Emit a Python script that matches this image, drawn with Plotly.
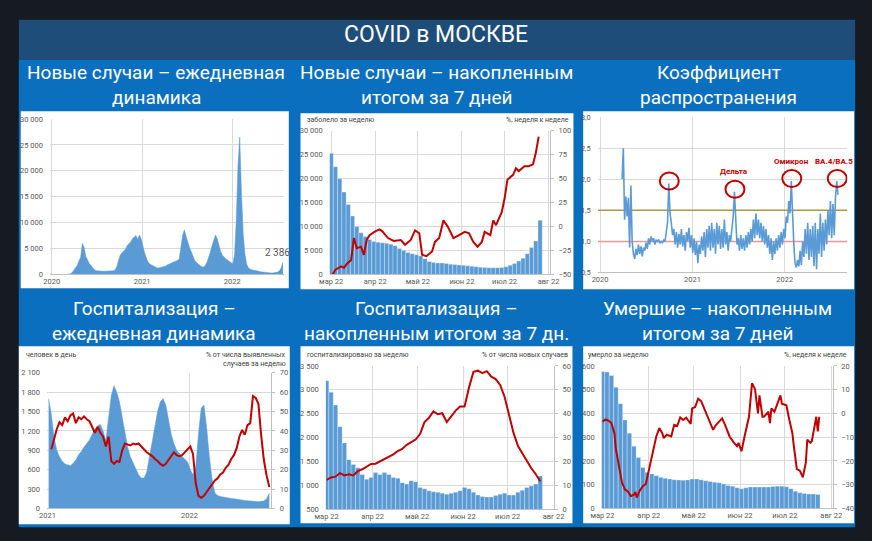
import pandas as pd
import plotly.graph_objects as go

W, H = 872, 541
FONT = "Roboto, 'Open Sans', sans-serif"
BLUE = "#5b9bd5"
RED = "#c00000"
GRID = "#d9d9d9"
AXIS = "#bfbfbf"
DAY = 86400000

# ---- panel 1: new cases, daily level (weekly samples) ----
cases_start = "2020-03-02"
cases = [
    10, 30, 100, 300, 700, 1200, 1700, 2600, 3300, 6000, 5200, 3500, 2700,
    2100, 1700, 1200, 900, 700, 650, 600, 580, 600, 620, 640, 650, 650, 650,
    700, 900, 1600, 2800, 3800, 4200, 4600, 4900, 5600, 5900, 6300, 6900, 7200,
    7500, 6800, 7600, 6900,
    5200, 4200, 3200, 2400, 2000, 1800, 1600, 1400, 1300, 1250, 1350, 1300, 1400,
    1600, 1800, 1900, 2100, 2300, 2400, 2600, 2700, 3000, 5000, 7600, 8600, 7200,
    6200, 5200, 4300, 3300, 2700, 2300, 2000, 1700, 1500, 1400, 1700, 2300, 3200,
    4300, 5600, 6800, 7600, 6900, 5600, 4400, 3700, 3300, 3000, 2800, 2500, 2300,
    2000, 3800, 10500, 21000, 26500, 16000, 8000, 4000, 2000, 1300, 1000, 900, 850,
    800, 700, 600, 500, 450, 380, 350, 330, 300, 290, 280, 300, 350,
    450, 700, 1300, 2386,
]
year_ticks = ["2020-01-01", "2021-01-01", "2022-01-01"]
year_text = ["2020", "2021", "2022"]

# ---- panel 2: cases for 7 days + week-to-week % ----
week_start = "2022-03-01"
cases_week = [
    25300, 22500, 20000, 17200, 14600, 12200, 10000, 8700, 7900, 7300,
    6900, 6700, 6600, 6500, 6300, 6000, 5400, 5000, 4600, 4300,
    4100, 3900, 3300, 2700, 2500, 2400, 2400, 2300, 2150, 2050,
    1950, 1900, 1800, 1700, 1600, 1500, 1450, 1400, 1400, 1400,
    1450, 1600, 1900, 2300, 2800, 3400, 4300, 5600, 7000, 11300,
]
cases_pct_day = [1, 3, 7, 9, 11, 14, 16, 18, 21, 23, 25, 27, 31, 34, 36, 40, 44,
                 49, 52, 56, 59, 62, 64, 67, 71, 73, 76, 79, 82, 86, 90, 94, 97,
                 100, 103, 106, 108, 112, 114, 116, 120, 122, 124, 128, 130, 132,
                 136, 139, 142, 144, 146]
cases_pct = [-50, -45, -41.5, -43, -39, -35, -12, -22.6, -21, -29.5, -14, -9, -5,
             -3, -5, -12, -15, -14, -19, -14, -4, -7, -29.5, -31, -26, -16, -12,
             6.5, 0, -12, -9, -5.5, -7, -16, -21, -16, -5.5, -9, 6.5, 1.4, 15, 29,
             49, 54, 61, 58, 63, 63, 65, 77, 94]
month_ticks = ["2022-03-01", "2022-04-01", "2022-05-01", "2022-06-01",
               "2022-07-01", "2022-08-01"]
month_text = ["мар 22", "апр 22", "май 22", "июн 22", "июл 22", "авг 22"]

# ---- panel 3: reproduction number (5-day samples) ----
rt_start = "2020-03-28"
rt = [
    2.0, 2.5, 1.35, 1.72, 1.4, 1.7, 0.9, 1.9, 1.0, 0.8,
    0.72, 0.88, 0.78, 0.95, 0.8, 0.92, 0.76, 0.9, 0.85, 0.98,
    0.88, 1.05, 0.95, 1.08, 1.0, 1.05, 0.95, 1.02, 1.0, 1.03,
    0.97, 1.0, 0.98, 1.02, 1.0, 1.15, 1.3, 1.93, 1.45, 1.3,
    1.1, 1.2, 0.95, 1.15, 0.9, 1.12, 0.95, 1.2, 0.92, 1.1,
    0.85, 1.15, 1.0, 1.22, 0.9, 1.1, 0.82, 1.05, 0.78, 1.0,
    0.65, 0.95, 0.8, 1.08, 0.85, 1.15, 0.75, 1.2, 0.9, 1.25,
    0.85, 1.3, 0.9, 1.2, 0.8, 1.3, 0.95, 1.25, 0.88, 1.2,
    0.9, 1.35, 0.95, 1.15, 0.85, 1.1, 1.0, 1.2, 1.4, 1.8,
    1.2, 0.95, 1.05, 0.85, 1.1, 0.88, 1.05, 0.85, 1.1, 0.9,
    1.15, 0.95, 1.2, 1.0, 1.35, 1.05, 1.45, 1.1, 1.35, 1.05,
    1.3, 1.0, 1.25, 0.95, 1.2, 0.9, 1.1, 0.8, 1.05, 0.7,
    1.0, 0.8, 1.05, 0.85, 1.1, 0.9, 1.15, 0.95, 1.2, 1.05,
    1.4, 1.3, 1.65, 1.45, 1.97, 1.3, 0.95, 0.65, 0.58, 0.7,
    0.6, 0.85, 0.62, 1.0, 0.75, 1.2, 0.8, 1.3, 0.7, 1.2,
    0.75, 1.25, 0.6, 1.3, 0.55, 1.2, 0.8, 1.45, 0.75, 1.3,
    0.85, 1.35, 0.95, 1.5, 1.1, 1.65, 1.05, 1.6, 1.1, 1.7,
    1.97, 1.75,
]
rt_range = ["2019-12-23", "2022-09-06"]
rt_levels = [1.5, 1.0]
rt_level_colors = ["#ad9645", "#e99595"]
rt_peaks = ["2020-09-29", "2021-06-16", "2022-01-27", "2022-07-26"]
rt_peak_labels = ["", "Дельта", "Омикрон", "BA.4/BA.5"]

# ---- panel 4: hospitalised per day + % of cases (weekly samples) ----
hosp_start = "2021-01-04"
hosp_day = [
    1700, 1450, 1100, 900, 800, 730, 690, 670, 660, 700,
    750, 830, 880, 950, 1000, 1060, 1150, 1230, 1280, 1300,
    1200, 1050, 1400, 1750, 1900, 1800, 1650, 1400, 1150, 950,
    800, 700, 620, 520, 470, 470, 560, 800, 980, 1250,
    1500, 1650, 1700, 1600, 1380, 1150, 1000, 900, 850, 800,
    760, 720, 600, 520, 650, 1150, 1550, 1600, 1250, 800,
    450, 240, 200, 185, 175, 170, 160, 155, 150, 140,
    135, 130, 125, 120, 115, 110, 105, 105, 110, 115,
    150, 240,
]
hosp_pct_start = "2021-01-11"
hosp_pct = [
    30.5, 36, 41, 44.5, 43, 47, 45, 48, 49, 44,
    47, 46, 47.5, 46, 45, 42, 39, 42, 39, 37,
    32, 37, 24.5, 23, 24.5, 24, 30, 33.5, 33, 32.5,
    33.5, 33, 33.5, 32, 30, 29, 28, 27, 25.5, 24.5,
    23, 22, 23, 25, 27, 29, 27.5, 27, 27.5, 29,
    31, 32, 28, 13, 6.5, 5.5, 6.5, 8.5, 10.5, 13,
    14.5, 15.5, 17.5, 18.5, 21, 22.5, 25.5, 27.5, 31, 37,
    40.5, 38, 43, 44, 58, 57, 54, 38, 25, 17,
    11,
]

# ---- panel 5: hospitalised for 7 days + % of new cases ----
hosp_week = [
    3190, 2950, 2680, 2230, 1890, 1540, 1440, 1370, 1230, 1130,
    1170, 1270, 1230, 1270, 1230, 1170, 1150, 1060, 1030, 1100,
    1080, 960, 930, 890, 870, 860, 840, 820, 840, 860,
    890, 960, 930, 860, 800, 770, 760, 760, 790, 820,
    840, 800, 800, 860, 900, 960, 990, 1030, 1200,
]
hosp_week_pct = [
    12.4, 13.4, 13.7, 15.2, 14.2, 14.7, 14.2, 16.0, 16.8, 17.9,
    19.0, 19.1, 20.0, 21.1, 22.0, 23.0, 24.4, 25.3, 27.0, 28.0,
    29.2, 31.5, 36.5, 38.3, 41.0, 39.8, 40.2, 36.5, 38.8, 41.3,
    43.0, 43.0, 51.0, 57.5, 58.0, 57.0, 57.8, 55.5, 54.5, 52.0,
    47.0, 40.0, 32.0, 26.5, 23.5, 20.0, 17.2, 14.7, 11.8,
]

# ---- panel 6: deaths for 7 days + week-to-week % ----
deaths_week = [
    576, 574, 559, 510, 441, 372, 317, 262, 214, 172,
    152, 145, 138, 131, 127, 124, 121, 120, 119, 120,
    124, 124, 121, 117, 114, 110, 108, 103, 97, 94,
    87, 83, 87, 90, 90, 90, 90, 90, 92, 94,
    94, 91, 83, 72, 66, 63, 61, 61, 59,
]
deaths_pct_day = [0, 2, 4, 6, 8, 9, 11, 13, 15, 17, 19, 21, 22, 23, 25, 27, 29, 31,
                  34, 36, 38, 40, 41, 43, 46, 48, 50, 52, 54, 56, 59, 60, 62, 64,
                  66, 68, 69, 72, 74, 76, 78, 80, 82, 85, 88, 90, 91, 93, 95, 98,
                  100, 102, 104, 105, 107, 108, 111, 112, 113, 115, 117, 119, 120,
                  123, 125, 127, 128, 130, 132, 134, 136, 137, 139, 140, 141, 143,
                  144, 145]
deaths_pct = [-3.5, -2.5, -3, -4.1, -8.3, -15.2, -22, -29, -32, -32.8, -34.8,
              -34.2, -33.1, -35.4, -32.4, -30.6, -29.7, -24.1, -15.9, -9.7, -6.2,
              -8.3, -10.4, -9, -9.7, -4.8, -5.3, -1.7, -2.8, -1.8, -4.4, 2.1, 2.7,
              6.2, 5.2, 2.1, 0.7, -3.5, -6.9, -4.8, -3.5, -2.1, -4.8, -9.7, -12.4,
              -13.8, -12.4, -15.9, -9.7, -1.4, 12.7, 10.3, 0, 7.6, -1.4, -1.4, 0.7,
              -4.1, 2.1, 0.7, 4.1, 7.6, 4.1, 3.4, -2.8, -8.3, -13.8, -23.4, -24.1,
              -26.9, -20.7, -11, -12.4, -11.7, -8.3, -1.4, -7.6, -1.4]


def dx(a, b):
    return [a / W, b / W]


def dy(top, bottom):
    return [1 - bottom / H, 1 - top / H]


def days_from(start, offsets):
    return pd.Timestamp(start) + pd.to_timedelta(offsets, unit="D")


tick_font = dict(family=FONT, size=7.5, color="#595959")


def xax(dom, rng, vals, text, anchor):
    return dict(domain=dom, range=rng, type="date", tickvals=vals, ticktext=text,
                showgrid=True, gridcolor=GRID, gridwidth=1, showline=True,
                linecolor=AXIS, ticks="", tickfont=tick_font, anchor=anchor,
                fixedrange=True)


def yleft(dom, rng, dtick, fmt, anchor):
    return dict(domain=dom, range=rng, dtick=dtick, tick0=rng[0], tickformat=fmt,
                showgrid=True, gridcolor=GRID, zeroline=False, showline=False,
                ticks="", tickfont=tick_font, anchor=anchor, ticklabelstandoff=6,
                fixedrange=True)


def yright(rng, dtick, over, anchor):
    return dict(overlaying=over, side="right", range=rng, dtick=dtick, tick0=rng[0],
                showgrid=False, zeroline=False, showline=True, linecolor=AXIS,
                ticks="outside", ticklen=3, tickcolor=AXIS, tickfont=tick_font,
                anchor=anchor, ticklabelstandoff=3, fixedrange=True)


def area(x, y, xa, ya):
    return go.Scatter(x=x, y=y, mode="lines", fill="tozeroy", fillcolor=BLUE,
                      line=dict(color=BLUE, width=0.5), xaxis=xa, yaxis=ya)


def bars(x, y, xa, ya):
    return go.Bar(x=x, y=y, width=3 * DAY,
                  marker=dict(color=BLUE, line=dict(width=0.4, color="rgba(255,255,255,0.7)")),
                  xaxis=xa, yaxis=ya)


def red(x, y, xa, ya):
    return go.Scatter(x=x, y=y, mode="lines", line=dict(color=RED, width=2),
                      xaxis=xa, yaxis=ya)


fig = go.Figure()

# panel 1
cases_x = pd.date_range(cases_start, periods=len(cases), freq="7D")
fig.add_trace(area(cases_x, cases, "x", "y"))

# panel 2
fig.add_trace(bars(pd.date_range(week_start, periods=len(cases_week), freq="3D"),
                   cases_week, "x2", "y2"))
fig.add_trace(red(days_from(week_start, cases_pct_day), cases_pct, "x2", "y7"))

# panel 3
for lvl, col in zip(rt_levels, rt_level_colors):
    fig.add_trace(go.Scatter(x=rt_range, y=[lvl, lvl], mode="lines",
                             line=dict(color=col, width=1.5), xaxis="x3", yaxis="y3"))
rt_x = pd.date_range(rt_start, periods=len(rt), freq="5D")
fig.add_trace(go.Scatter(x=rt_x, y=rt, mode="lines", line=dict(color=BLUE, width=1.6),
                         xaxis="x3", yaxis="y3"))

# panel 4
fig.add_trace(area(pd.date_range(hosp_start, periods=len(hosp_day), freq="7D"),
                   hosp_day, "x4", "y4"))
fig.add_trace(red(pd.date_range(hosp_pct_start, periods=len(hosp_pct), freq="7D"),
                  hosp_pct, "x4", "y8"))

# panel 5
fig.add_trace(bars(pd.date_range(week_start, periods=len(hosp_week), freq="3D"),
                   hosp_week, "x5", "y5"))
fig.add_trace(red(pd.date_range(week_start, periods=len(hosp_week_pct), freq="3D"),
                  hosp_week_pct, "x5", "y9"))

# panel 6
fig.add_trace(bars(pd.date_range(week_start, periods=len(deaths_week), freq="3D"),
                   deaths_week, "x6", "y6"))
fig.add_trace(red(days_from(week_start, deaths_pct_day), deaths_pct, "x6", "y10"))

# background blocks
shapes = [
    dict(type="rect", xref="paper", yref="paper", x0=8 / W, x1=866 / W, y0=1 - 532 / H,
         y1=1 - 57 / H, fillcolor="#0b6fc0", line_width=0, layer="below"),
    dict(type="rect", xref="paper", yref="paper", x0=8 / W, x1=866 / W, y0=1 - 57 / H,
         y1=1 - 16 / H, fillcolor="#1f4d7a", line_width=0, layer="below"),
]
for l, r, t, b in [(10, 285, 109, 289), (297, 577, 111, 290), (587, 865, 109, 290),
                   (8, 286, 348, 529), (297, 576, 348, 528), (587, 865, 348, 528)]:
    shapes.append(dict(type="rect", xref="paper", yref="paper", x0=l / W, x1=r / W,
                       y0=1 - b / H, y1=1 - t / H, fillcolor="white", line_width=0,
                       layer="below"))

annotations = []
for d, label in zip(rt_peaks, rt_peak_labels):
    i = rt_x.get_indexer([pd.Timestamp(d)], method="nearest")[0]
    px_, py_ = rt_x[i].strftime("%Y-%m-%d"), rt[i]
    shapes.append(dict(type="circle", xref="x3", yref="y3", xsizemode="pixel",
                       ysizemode="pixel", xanchor=px_, yanchor=py_, x0=-9, x1=10,
                       y0=-6, y1=11, line=dict(color=RED, width=2)))
    if label:
        annotations.append(dict(x=px_, y=py_, xref="x3", yref="y3", text=f"<b>{label}</b>",
                                showarrow=False, yshift=20,
                                xshift=-3 if label.startswith("BA") else 0,
                                font=dict(family=FONT, size=8, color=RED)))


def note(x, y, text, size, color="white", anchor="center"):
    annotations.append(dict(x=x / W, y=1 - y / H, xref="paper", yref="paper", text=text,
                            showarrow=False, xanchor=anchor, yanchor="middle",
                            font=dict(family=FONT, size=size, color=color)))


note(436, 31, "COVID в МОСКВЕ", 23)
for cx, l1, l2 in [(149, "Новые случаи – ежедневная", "динамика"),
                   (437, "Новые случаи – накопленным", "итогом за 7 дней"),
                   (726, "Коэффициент", "распространения")]:
    note(cx, 70, l1, 19)
    note(cx, 95, l2, 19)
for cx, l1, l2 in [(147, "Госпитализация –", "ежедневная динамика"),
                   (436, "Госпитализация –", "накопленным итогом за 7 дн."),
                   (725, "Умершие – накопленным", "итогом за 7 дней")]:
    note(cx, 310, l1, 19)
    note(cx, 335, l2, 19)

small = "#404040"
note(302, 118, "заболело за неделю", 7, small, "left")
note(574, 118, "%, неделя к неделе", 7, small, "right")
note(13, 357, "человек в день", 7, small, "left")
note(284, 357, "% от числа выявленных", 7, small, "right")
note(284, 366, "случаев за неделю", 7, small, "right")
note(302, 357, "госпитализировано за неделю", 7, small, "left")
note(573, 357, "% от числа новых случаев", 7, small, "right")
note(590, 357, "умерло за неделю", 7, small, "left")
note(860, 357, "%, неделя к неделе", 7, small, "right")

annotations.append(dict(x=cases_x[-1], y=cases[-1], xref="x", yref="y",
                        text=f"{cases[-1]:,}".replace(",", " "), showarrow=False,
                        xanchor="right", yanchor="bottom", xshift=9, yshift=2,
                        font=dict(family=FONT, size=10, color="#595959")))

fig.update_layout(
    width=W, height=H, margin=dict(l=0, r=0, t=0, b=0),
    paper_bgcolor="#161a21", plot_bgcolor="rgba(0,0,0,0)",
    showlegend=False, separators=", ", font=dict(family=FONT),
    shapes=shapes, annotations=annotations,
    xaxis=xax(dx(40, 280), ["2019-12-25", "2022-07-29"], year_ticks, year_text, "y"),
    yaxis=yleft(dy(117, 275), [0, 30000], 5000, ",d", "x"),
    xaxis2=xax(dx(327, 553), ["2022-02-28", "2022-08-02"], month_ticks, month_text, "y2"),
    yaxis2=yleft(dy(129, 275), [0, 30000], 5000, ",d", "x2"),
    yaxis7=yright([-50, 100], 25, "y2", "x2"),
    xaxis3=xax(dx(602, 858), rt_range, year_ticks, year_text, "y3"),
    yaxis3=yleft(dy(115, 273), [0.5, 3.0], 0.5, ".1f", "x3"),
    xaxis4=xax(dx(37, 267), ["2020-12-31", "2022-07-30"], year_ticks[1:], year_text[1:], "y4"),
    yaxis4=yleft(dy(375, 513), [0, 2100], 300, ",d", "x4"),
    yaxis8=yright([0, 70], 10, "y4", "x4"),
    xaxis5=xax(dx(323, 557), ["2022-02-28 12:00", "2022-08-01 06:00"], month_ticks, month_text, "y5"),
    yaxis5=yleft(dy(368, 514), [500, 3500], 500, ",d", "x5"),
    yaxis9=yright([0, 60], 10, "y5", "x5"),
    xaxis6=xax(dx(606, 843), ["2022-02-28 12:00", "2022-08-02"], month_ticks, month_text, "y6"),
    yaxis6=yleft(dy(368, 513), [0, 600], 100, ",d", "x6"),
    yaxis10=yright([-40, 20], 10, "y6", "x6"),
)

fig.write_html("out.html", config={"displayModeBar": False},
               post_script="document.body.style.margin='0';document.body.style.overflow='hidden';")
